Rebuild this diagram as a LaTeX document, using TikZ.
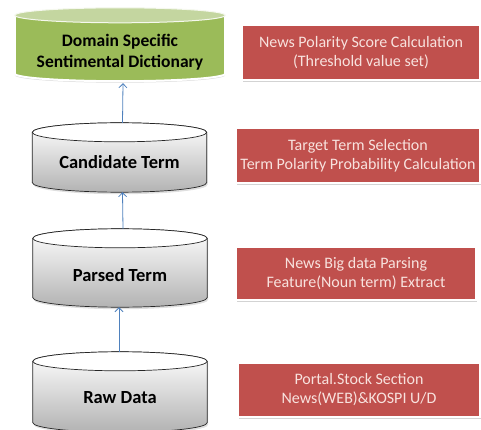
\documentclass[tikz,border=0pt]{standalone}
\usepackage{fontspec}
\setmainfont{Carlito}
\usetikzlibrary{arrows.meta,calc,shadows,backgrounds}
\definecolor{dictgreen}{RGB}{155,187,89}
\definecolor{dicttop}{RGB}{196,214,160}
\definecolor{stepred}{RGB}{192,80,77}
\definecolor{steptext}{RGB}{248,226,222}
\definecolor{flowblue}{RGB}{79,129,189}
% cylinder round a named node: node, end radius, body style, top style
\newcommand\tank[4]{%
  \path[#3] let \p1=(#1.north west), \p2=(#1.south east), \n1={(\x2-\x1)/2} in
    (\x1,\y1-#2) arc[start angle=180,end angle=0,x radius=\n1,y radius=#2]
    -- (\x2,\y2+#2) arc[start angle=0,end angle=-180,x radius=\n1,y radius=#2] -- cycle;
  \path[#4] let \p1=(#1.north west), \p2=(#1.south east), \n1={(\x2-\x1)/2} in
    (\x1+\n1,\y1-#2) ellipse[x radius=\n1,y radius=#2];}

\begin{document}
\begin{tikzpicture}
[x=1pt,y=-1pt
,tank/.style={rectangle,inner sep=0pt,text depth=0pt,font=\fontsize{18.5}{21}\selectfont\bfseries}
,db/.style={tank,minimum width=174pt}
,dict/.style={tank,minimum width=210pt,font=\fontsize{17.5}{21}\selectfont\bfseries}
,dbbody/.style={draw=black!85,line width=0.7pt,top color=white,bottom color=black!30
  ,drop shadow={shadow xshift=1pt,shadow yshift=-2pt,opacity=0.25}}
,dbtop/.style={draw=black!85,line width=0.7pt,fill=white}
,dictbody/.style={draw=white,line width=2pt,fill=dictgreen
  ,drop shadow={shadow xshift=0pt,shadow yshift=-1.5pt,opacity=0.3}}
,dicttopend/.style={draw=white!90!dictgreen,line width=1pt,fill=dicttop}
,stepbox/.style={rectangle,draw=white,line width=1.2pt,fill=stepred,text=steptext
  ,align=center,inner sep=0pt,font=\fontsize{16}{19}\selectfont
  ,drop shadow={shadow xshift=1pt,shadow yshift=-2pt,opacity=0.35}}
,flow/.style={draw=flowblue,line width=0.8pt,arrows={-{Straight Barb[length=4pt,width=8pt]}}}
]
\useasboundingbox (0,0) rectangle (481,430);
% databases
\node[dict,minimum height=73pt,text height=25pt] (dict) at (120,44.5)
  {\begin{tabular}{@{}c@{}}Domain Specific\\Sentimental Dictionary\end{tabular}};
\node[db,minimum height=69pt,text height=23pt] (cand) at (119.5,157.5) {Candidate Term};
\node[db,minimum height=78pt,text height=27pt] (pars) at (120,268) {Parsed Term};
\node[db,minimum height=80pt,text height=23pt] (raw) at (120,392) {Raw Data};
\begin{scope}[on background layer]
\tank{dict}{7.5pt}{dictbody}{dicttopend}
\tank{cand}{9.5pt}{dbbody}{dbtop}
\tank{pars}{9.5pt}{dbbody}{dbtop}
\tank{raw}{9.5pt}{dbbody}{dbtop}
\end{scope}
% steps
\node[stepbox,minimum width=238pt,minimum height=55pt] (score) at (361,52.5)
  {News Polarity Score Calculation\\(Threshold value set)};
\node[stepbox,minimum width=244pt,minimum height=55pt] (select) at (358,155.5)
  {Target Term Selection\\Term Polarity Probability Calculation};
\node[stepbox,minimum width=240pt,minimum height=53pt] (parse) at (356,273.5)
  {News Big data Parsing\\Feature(Noun term) Extract};
\node[stepbox,minimum width=242pt,minimum height=54pt] (portal) at (359,390)
  {Portal.Stock Section\\News(WEB)\&KOSPI U/D};
% arrows
\draw[flow] ([xshift=3pt]cand.north) -- ([xshift=3pt,yshift=-2pt]dict.south);
\draw[flow] ([xshift=3pt]pars.north) -- ([xshift=3pt]cand.south);
\draw[flow] ([xshift=-1pt]raw.north) -- ([xshift=-1pt]pars.south);
\end{tikzpicture}
\end{document}
